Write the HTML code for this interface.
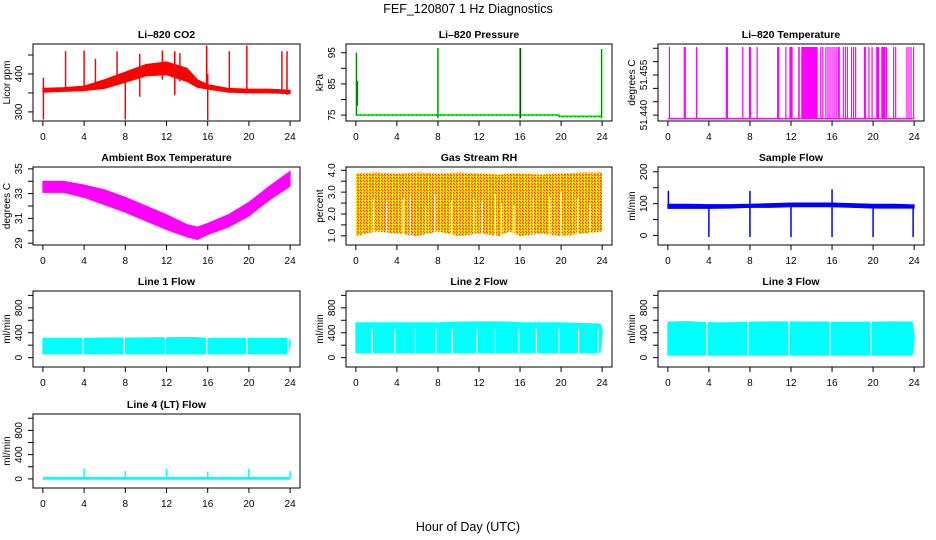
<!DOCTYPE html>
<html><head><meta charset="utf-8">
<style>
html,body{margin:0;padding:0;background:#fff;}
svg{display:block;font-family:"Liberation Sans",Arial,sans-serif;}
</style></head>
<body>
<svg id="chart" width="936" height="540" viewBox="0 0 936 540" xmlns="http://www.w3.org/2000/svg">
<defs>
<pattern id="rhpat" width="3" height="3" patternUnits="userSpaceOnUse">
<rect width="3" height="3" fill="#ffc000"/><rect width="1" height="1" fill="#ff2000"/><rect x="1" y="1" width="1" height="1" fill="#ff4000"/><rect x="2" y="2" width="1" height="1" fill="#ffff00"/><rect x="2" y="0" width="1" height="1" fill="#ffff00"/>
</pattern>
</defs>
<text x="468" y="13" text-anchor="middle" font-size="12.5">FEF_120807  1 Hz Diagnostics</text>
<text x="468" y="531" text-anchor="middle" font-size="12.5">Hour of Day (UTC)</text>
</svg>
<script>
// ---------- data ----------
const xTicks = [0, 4, 8, 12, 16, 20, 24];
const bandHours = [0, 2, 4, 6, 8, 10, 12, 14, 15, 16, 18, 20, 22, 24];
const flowHours = [0, 2, 4, 6, 8, 10, 12, 14, 15, 16, 18, 20, 22, 23.8, 24];

// CO2
const co2Lower = [352, 354, 356, 362, 378, 395, 398, 380, 365, 360, 352, 350, 350, 348];
const co2Upper = [362, 364, 368, 385, 405, 425, 432, 415, 385, 372, 362, 360, 360, 357];
const co2SpikeHours = [0.05, 2.2, 4.0, 5.1, 7.2, 8.0, 9.4, 11.6, 12.8, 13.3, 15.9, 16.0, 18.1, 19.8, 23.2, 23.7];
const co2SpikeLow = [280, 357, 358, 365, 380, 280, 340, 385, 345, 380, 360, 278, 350, 350, 352, 345];
const co2SpikeHigh = [390, 460, 462, 440, 460, 400, 453, 462, 460, 455, 475, 400, 460, 475, 460, 460];

// Pressure
const presHours = [0, 19.8, 19.8, 24];
const presValues = [75.0, 75.0, 74.6, 74.6];
const presSpikeHours = [0.05, 0.15, 8.0, 16.0, 16.05, 23.95];
const presSpikeLow = [75, 78, 74, 74, 74, 74];
const presSpikeHigh = [95, 86, 96.5, 96.5, 96.5, 96.2];

// Li-820 temperature
const tempBase = 51.4387;
const tempTop = 51.4655;
const tempSpikeHours = [0.15, 1.6, 1.7, 2.8, 5.7, 5.8, 7.3, 7.95, 8.05, 8.7, 10.7, 10.8, 11.5, 11.9, 12.0, 12.1,
  14.9, 15.1, 15.4, 15.6, 15.8, 16.0, 16.2, 16.4, 16.6, 16.7, 17.1, 17.3, 17.5, 17.9, 18.1, 18.3,
  19.6, 19.9, 21.1, 21.3, 22.0, 22.2, 23.3, 23.5, 23.7, 23.95];
const tempBlockStart = [12.7, 13.0, 19.1, 20.3, 20.8];
const tempBlockEnd = [12.85, 14.6, 19.3, 20.6, 21.2];

// Ambient box temperature
const ambLower = [33.1, 33.1, 32.7, 32.1, 31.5, 30.8, 30.1, 29.5, 29.3, 29.7, 30.3, 31.2, 32.5, 33.6];
const ambUpper = [34.0, 34.0, 33.7, 33.3, 32.7, 32.0, 31.3, 30.5, 30.3, 30.6, 31.3, 32.3, 33.6, 34.8];

// Gas stream RH
const rhLower = [1.0, 1.2, 1.1, 1.0, 1.2, 1.0, 1.1, 1.0, 1.2, 1.0, 1.1, 1.0, 1.1, 1.2];
const rhUpper = [3.85, 3.9, 3.85, 3.9, 3.85, 3.9, 3.85, 3.8, 3.85, 3.85, 3.8, 3.85, 3.9, 3.9];
const rhGapHours = [1.7, 3.0, 4.6, 5.3, 6.8, 7.7, 9.3, 11.5, 12.3, 13.6, 14.2, 15.4, 17.3, 18.9, 20.0, 21.6, 22.8];
const rhGapTop = [2.7, 2.6, 2.7, 2.8, 2.4, 2.9, 2.6, 2.7, 2.6, 2.9, 2.5, 2.4, 2.7, 2.8, 3.0, 2.7, 2.5];

// Sample flow
const sfLower = [85, 85, 85, 86, 88, 88, 90, 90, 90, 90, 88, 86, 86, 86];
const sfUpper = [98, 98, 97, 97, 98, 100, 102, 102, 102, 102, 100, 98, 98, 96];
const sfSpikeHours = [0.05, 4.0, 8.0, 12.0, 16.0, 20.0, 23.9];
const sfSpikeLow = [90, -5, -5, -5, -5, -5, -5];
const sfSpikeHigh = [140, 95, 140, 95, 145, 95, 95];

// Line flows
const l1Lower = [60, 60, 60, 60, 60, 60, 60, 60, 60, 60, 60, 60, 60, 60, 200];
const l1Upper = [310, 310, 310, 315, 315, 318, 322, 325, 322, 310, 310, 310, 310, 310, 280];
const l1GapHours = [3.9, 7.9, 11.9, 15.9, 19.8, 23.8];
const l2Lower = [80, 80, 80, 80, 80, 80, 80, 80, 80, 80, 80, 80, 80, 80, 380];
const l2Upper = [560, 560, 560, 560, 560, 570, 575, 575, 570, 560, 560, 560, 550, 540, 450];
const l2GapHours = [1.6, 3.8, 5.8, 7.8, 9.4, 11.8, 13.6, 15.9, 17.6, 19.8, 21.7, 23.6];
const l3Lower = [40, 40, 40, 40, 40, 40, 40, 40, 40, 40, 40, 40, 40, 40, 250];
const l3Upper = [570, 580, 560, 560, 570, 575, 575, 570, 575, 570, 570, 570, 575, 570, 350];
const l3GapHours = [3.8, 7.8, 11.8, 15.8, 19.8];
const l4Base = 10;
const l4SpikeHours = [4.0, 8.0, 12.0, 16.0, 20.0, 24.0];
const l4SpikeHigh = [170, 130, 170, 120, 170, 130];

// ---------- layout ----------
const NS = 'http://www.w3.org/2000/svg';
const svg = document.getElementById('chart');
const colL = [33, 346, 658], colR = [300, 612, 924];
const rowT = [44, 167, 291, 414], rowB = [121, 245, 367, 488];

function mk(tag, attrs, parent) {
  const e = document.createElementNS(NS, tag);
  for (const k in attrs) e.setAttribute(k, attrs[k]);
  (parent || svg).appendChild(e);
  return e;
}

function panel(col, row, name, title, ylab, ymin, ymax, yTicks, yLabels) {
  const L = colL[col], R = colR[col], T = rowT[row], B = rowB[row];
  const g = mk('g', {});
  
  
  const ppx = (R - L) / 25.92;
  const x = h => L + (h + 0.96) * ppx;
  const y = v => B - (v - ymin) / (ymax - ymin) * (B - T);
  const clipId = 'clip-' + name;
  const cp = mk('clipPath', { id: clipId }, g);
  mk('rect', { x: L + 1, y: T + 1, width: R - L - 2, height: B - T - 2 }, cp);
  const plot = mk('g', { 'clip-path': 'url(#' + clipId + ')' }, g);
  
  
  const box = mk('rect', { x: L, y: T, width: R - L, height: B - T, fill: 'none', stroke: '#000', 'stroke-width': 1 }, g);
  
  
  const t = mk('text', { x: (L + R) / 2, y: T - 6, 'text-anchor': 'middle', 'font-size': 10.5, 'font-weight': 'bold' }, g);
  t.textContent = title;
  
  
  const xa = mk('g', {}, g);
  
  
  xTicks.forEach(h => {
    mk('line', { x1: x(h), x2: x(h), y1: B, y2: B + 5, stroke: '#000' }, xa);
    const tl = mk('text', { x: x(h), y: B + 19, 'text-anchor': 'middle', 'font-size': 10 }, xa);
    tl.textContent = String(h);
  });
  const ya = mk('g', {}, g);
  
  
  mk('line', { x1: L, x2: L, y1: y(yTicks[0]), y2: y(yTicks[yTicks.length - 1]), stroke: '#000' }, ya);
  yTicks.forEach(v => mk('line', { x1: L - 5, x2: L, y1: y(v), y2: y(v), stroke: '#000' }, ya));
  yLabels.forEach(v => {
    const yl = mk('text', { x: 0, y: 0, 'text-anchor': 'middle', 'font-size': 10, transform: 'translate(' + (L - 11) + ',' + y(v) + ') rotate(-90)' }, ya);
    yl.textContent = ymax - ymin < 1 ? v.toFixed(3) : (ymax - ymin < 5 ? v.toFixed(1) : String(v));
  });
  const yt = mk('text', { x: 0, y: 0, 'text-anchor': 'middle', 'font-size': 10, transform: 'translate(' + (L - 23) + ',' + (T + B) / 2 + ') rotate(-90)' }, g);
  yt.textContent = ylab;
  
  
  return { x, y, plot, T, B };
}

function band(p, hours, lo, hi, fill, name) {
  let d = '';
  hours.forEach((h, i) => d += (i ? 'L' : 'M') + p.x(h) + ',' + p.y(hi[i]));
  for (let i = hours.length - 1; i >= 0; i--) d += 'L' + p.x(hours[i]) + ',' + p.y(lo[i]);
  const e = mk('path', { d: d + 'Z', fill: fill, stroke: fill === 'url(#rhpat)' ? 'none' : fill, 'stroke-width': 1 }, p.plot);
  
  
}
function spikes(p, hours, lo, hi, color, w, name) {
  hours.forEach((h, i) => {
    const e = mk('line', { x1: p.x(h), x2: p.x(h), y1: p.y(lo[i]), y2: p.y(hi[i]), stroke: color, 'stroke-width': w }, p.plot);
    
    
  });
}
function gaps(p, hours, lo, hi, name) {
  hours.forEach((h, i) => {
    const e = mk('line', { x1: p.x(h), x2: p.x(h), y1: p.y(lo), y2: p.y(Array.isArray(hi) ? hi[i] : hi), stroke: '#fff', 'stroke-width': 1.2 }, p.plot);
    
    
  });
}

let p = panel(0, 0, 'co2', 'Li\u2013820 CO2', 'Licor ppm', 276, 479, [300, 350, 400, 450], [300, 400]);
band(p, bandHours, co2Lower, co2Upper, '#ff0000', 'co2-band');
spikes(p, co2SpikeHours, co2SpikeLow, co2SpikeHigh, '#ff0000', 1.5, 'co2-spike');

p = panel(1, 0, 'pressure', 'Li\u2013820 Pressure', 'kPa', 73.1, 97.8, [75, 80, 85, 90, 95], [75, 85, 95]);
{
  let d = '';
  presHours.forEach((h, i) => d += (i ? 'L' : 'M') + p.x(h) + ',' + p.y(presValues[i]));
  const e = mk('path', { d: d, fill: 'none', stroke: '#00ff00', 'stroke-width': 1.8 }, p.plot);
  
  
  mk('path', { d: d, fill: 'none', stroke: '#000', 'stroke-width': 0.7, 'stroke-dasharray': '1 3' }, p.plot);
}
spikes(p, presSpikeHours, presSpikeLow, presSpikeHigh, '#00ff00', 1.6, 'pressure-spike');
spikes(p, presSpikeHours, presSpikeLow, presSpikeHigh, '#000', 0.5, 'pressure-spike-dots');

p = panel(2, 0, 'li820-temp', 'Li\u2013820 Temperature', 'degrees C', 51.4378, 51.4666, [51.440, 51.445, 51.450, 51.455, 51.460, 51.465], [51.440, 51.455]);
{
  const e = mk('line', { x1: p.x(0), x2: p.x(24), y1: p.y(tempBase), y2: p.y(tempBase), stroke: '#ff00ff', 'stroke-width': 1.2 }, p.plot);
  
  
  tempSpikeHours.forEach(h => {
    const s = mk('line', { x1: p.x(h), x2: p.x(h), y1: p.y(tempBase), y2: p.y(tempTop), stroke: '#ff00ff', 'stroke-width': 1.2 }, p.plot);
    
    
  });
  tempBlockStart.forEach((h, i) => {
    const r = mk('rect', { x: p.x(h), y: p.y(tempTop), width: p.x(tempBlockEnd[i]) - p.x(h), height: p.y(tempBase) - p.y(tempTop), fill: '#ff00ff' }, p.plot);
    
    
  });
}

p = panel(0, 1, 'ambient-temp', 'Ambient Box Temperature', 'degrees C', 28.85, 35.15, [29, 30, 31, 32, 33, 34, 35], [29, 31, 33, 35]);
band(p, bandHours, ambLower, ambUpper, '#ff00ff', 'ambient-temp-band');

p = panel(1, 1, 'gas-rh', 'Gas Stream RH', 'percent', 0.58, 4.15, [1.0, 1.5, 2.0, 2.5, 3.0, 3.5, 4.0], [1.0, 2.0, 3.0, 4.0]);
band(p, bandHours, rhLower, rhUpper, 'url(#rhpat)', 'gas-rh-band');
gaps(p, rhGapHours, 0.6, rhGapTop, 'gas-rh-gap');

p = panel(2, 1, 'sample-flow', 'Sample Flow', 'ml/min', -30, 215, [0, 50, 100, 150, 200], [0, 100, 200]);
band(p, bandHours, sfLower, sfUpper, '#0000ff', 'sample-flow-band');
spikes(p, sfSpikeHours, sfSpikeLow, sfSpikeHigh, '#0000ff', 1.5, 'sample-flow-spike');

const flowTicks = [0, 200, 400, 600, 800, 1000], flowLabels = [0, 400, 800];
p = panel(0, 2, 'line1-flow', 'Line 1 Flow', 'ml/min', -150, 1070, flowTicks, flowLabels);
band(p, flowHours, l1Lower, l1Upper, '#00ffff', 'line1-flow-band');
gaps(p, l1GapHours, -100, 400, 'line1-flow-gap');

p = panel(1, 2, 'line2-flow', 'Line 2 Flow', 'ml/min', -150, 1070, flowTicks, flowLabels);
band(p, flowHours, l2Lower, l2Upper, '#00ffff', 'line2-flow-band');
gaps(p, l2GapHours, 70, 470, 'line2-flow-gap');

p = panel(2, 2, 'line3-flow', 'Line 3 Flow', 'ml/min', -150, 1070, flowTicks, flowLabels);
band(p, flowHours, l3Lower, l3Upper, '#00ffff', 'line3-flow-band');
gaps(p, l3GapHours, 30, 600, 'line3-flow-gap');

p = panel(0, 3, 'line4-flow', 'Line 4 (LT) Flow', 'ml/min', -150, 1070, flowTicks, flowLabels);
{
  const e = mk('line', { x1: p.x(0), x2: p.x(24), y1: p.y(l4Base), y2: p.y(l4Base), stroke: '#00ffff', 'stroke-width': 3 }, p.plot);
  
  
}
spikes(p, l4SpikeHours, l4SpikeHours.map(() => l4Base), l4SpikeHigh, '#00ffff', 1.5, 'line4-flow-spike');
</script>
</body></html>
